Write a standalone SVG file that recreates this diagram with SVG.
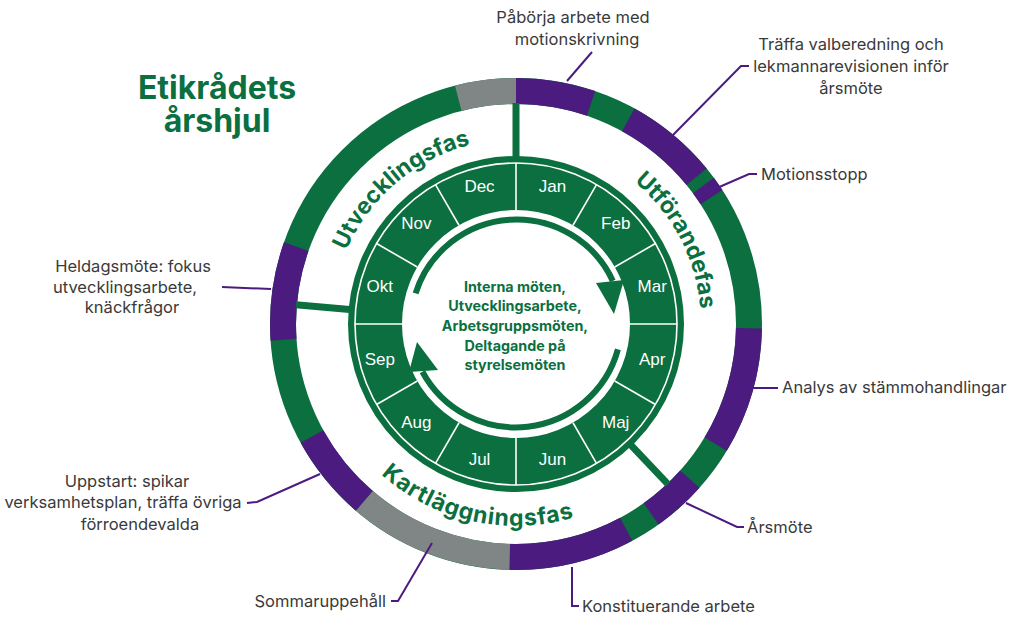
<svg xmlns="http://www.w3.org/2000/svg" xmlns:xlink="http://www.w3.org/1999/xlink" width="1010" height="617" viewBox="0 0 1010 617">
<style>
.lbl{font-family:Inter,"Noto Sans",sans-serif;font-size:16.5px;fill:#3a3a3a}
.mon{font-family:"Liberation Sans",Arial,sans-serif;font-size:17px;fill:#ffffff;text-anchor:middle}
.phase{font-family:Inter,"Noto Sans",sans-serif;font-weight:700;font-size:23px;fill:#0b6f3f}
.ctr{font-family:Inter,"Noto Sans",sans-serif;font-weight:700;font-size:14.3px;fill:#0b6f3f;text-anchor:middle}
.title{font-family:Inter,"Noto Sans",sans-serif;font-weight:700;font-size:32px;fill:#0b6f3f;text-anchor:middle}
.lead{fill:none;stroke:#4b1b7f;stroke-width:2}
.seg{fill:none;stroke-width:26}
.pu{stroke:#4b1b7f}
.gr{stroke:#808685}
.spoke{stroke:#0b6f3f;stroke-width:7}
.div{stroke:#ffffff;stroke-width:1.6}
</style>
<defs>
<path id="pUtv" d="M332.8,349.7 A185,185 0 0 1 570.1,147.1"/>
<path id="pUtf" d="M532.1,139.7 A185,185 0 0 1 676.2,416.5"/>
<path id="pKart" d="M326.2,393.1 A202,202 0 0 0 658.8,466.8"/>
<line id="dv" x1="516" y1="210" x2="516" y2="163" class="div"/>
</defs>
<rect width="1010" height="617" fill="#ffffff"/>

<g id="title">
<text class="title" x="217" y="99">Etikrådets</text>
<text class="title" x="217" y="132">årshjul</text>
</g>

<g id="outer-ring">
<circle cx="516" cy="324" r="233" fill="none" stroke="#0b6f3f" stroke-width="26"/>
<g transform="rotate(-90 516 324)">
<circle class="seg pu" cx="516" cy="324" r="233" stroke-dasharray="76.45 1500" stroke-dashoffset="0"/>
<circle class="seg pu" cx="516" cy="324" r="233" stroke-dasharray="89.47 1500" stroke-dashoffset="-117.12"/>
<circle class="seg pu" cx="516" cy="324" r="233" stroke-dasharray="14.23 1500" stroke-dashoffset="-217.56"/>
<circle class="seg pu" cx="516" cy="324" r="233" stroke-dasharray="122.0 1500" stroke-dashoffset="-370.06"/>
<circle class="seg pu" cx="516" cy="324" r="233" stroke-dasharray="52.05 1500" stroke-dashoffset="-535.57"/>
<circle class="seg pu" cx="516" cy="324" r="233" stroke-dasharray="121.18 1500" stroke-dashoffset="-616.90"/>
<circle class="seg pu" cx="516" cy="324" r="233" stroke-dasharray="83.37 1500" stroke-dashoffset="-896.69"/>
<circle class="seg pu" cx="516" cy="324" r="233" stroke-dasharray="94.75 1500" stroke-dashoffset="-1081.72"/>
<circle class="seg gr" cx="516" cy="324" r="233" stroke-dasharray="158.60 1500" stroke-dashoffset="-738.09"/>
<circle class="seg gr" cx="516" cy="324" r="233" stroke-dasharray="58.97 1500" stroke-dashoffset="-1405.0"/>
</g>
</g>

<g id="spokes">
<line class="spoke" x1="516" y1="157" x2="516" y2="103"/>
<line class="spoke" x1="516" y1="157" x2="516" y2="103" transform="rotate(275 516 324)"/>
<line class="spoke" x1="516" y1="157" x2="516" y2="103" transform="rotate(136.5 516 324)"/>
</g>

<g id="month-ring">
<circle cx="516" cy="324" r="141" fill="none" stroke="#0b6f3f" stroke-width="54"/>
<circle cx="516" cy="324" r="161" fill="none" stroke="#ffffff" stroke-width="1.6"/>
<use xlink:href="#dv"/>
<use xlink:href="#dv" transform="rotate(30 516 324)"/>
<use xlink:href="#dv" transform="rotate(60 516 324)"/>
<use xlink:href="#dv" transform="rotate(90 516 324)"/>
<use xlink:href="#dv" transform="rotate(120 516 324)"/>
<use xlink:href="#dv" transform="rotate(150 516 324)"/>
<use xlink:href="#dv" transform="rotate(180 516 324)"/>
<use xlink:href="#dv" transform="rotate(210 516 324)"/>
<use xlink:href="#dv" transform="rotate(240 516 324)"/>
<use xlink:href="#dv" transform="rotate(270 516 324)"/>
<use xlink:href="#dv" transform="rotate(300 516 324)"/>
<use xlink:href="#dv" transform="rotate(330 516 324)"/>
<text class="mon" x="552.5" y="192">Jan</text>
<text class="mon" x="615.7" y="228.5">Feb</text>
<text class="mon" x="652.2" y="291.5">Mar</text>
<text class="mon" x="652.2" y="364.5">Apr</text>
<text class="mon" x="615.7" y="428">Maj</text>
<text class="mon" x="552.5" y="464.5">Jun</text>
<text class="mon" x="479.5" y="464.5">Jul</text>
<text class="mon" x="416.3" y="428">Aug</text>
<text class="mon" x="379.8" y="364.5">Sep</text>
<text class="mon" x="379.8" y="291.5">Okt</text>
<text class="mon" x="416.3" y="228.5">Nov</text>
<text class="mon" x="479.5" y="192">Dec</text>
</g>

<g id="cycle-arrows" fill="#0b6f3f">
<path d="M415.6,293.3 A106,106 0 0 1 612.8,280.9" fill="none" stroke="#0b6f3f" stroke-width="6"/>
<polygon points="596,283 624,280 614,314"/>
<path d="M617.9,349.4 A106,106 0 0 1 422.4,371.7" fill="none" stroke="#0b6f3f" stroke-width="6"/>
<polygon points="409,372 438,370 417,342"/>
</g>

<g id="center-text">
<text class="ctr" x="515" y="292">Interna möten,</text>
<text class="ctr" x="515" y="311">Utvecklingsarbete,</text>
<text class="ctr" x="515" y="331">Arbetsgruppsmöten,</text>
<text class="ctr" x="515" y="351">Deltagande på</text>
<text class="ctr" x="515" y="370">styrelsemöten</text>
</g>

<g id="phases">
<text class="phase"><textPath xlink:href="#pUtv" startOffset="50%" text-anchor="middle">Utvecklingsfas</textPath></text>
<text class="phase"><textPath xlink:href="#pUtf" startOffset="50%" text-anchor="middle">Utförandefas</textPath></text>
<text class="phase" letter-spacing="0.8"><textPath xlink:href="#pKart" startOffset="50%" text-anchor="middle">Kartläggningsfas</textPath></text>
</g>

<g id="connectors">
<line class="lead" x1="592" y1="52" x2="567" y2="81"/>
<polyline class="lead" points="749,66 741,66 673,135"/>
<polyline class="lead" points="757,174 749,174 717,188"/>
<line class="lead" x1="752" y1="388" x2="778" y2="388"/>
<polyline class="lead" points="686,503 737,527 744,527"/>
<polyline class="lead" points="572,567 572,606 579,606"/>
<polyline class="lead" points="432,543 398,601 391,601"/>
<polyline class="lead" points="247,503 257,502 320,474"/>
<line class="lead" x1="222" y1="287" x2="271" y2="289"/>
</g>

<g id="label-paborja">
<text class="lbl" x="573" y="23" text-anchor="middle">Påbörja arbete med</text>
<text class="lbl" x="577" y="45" text-anchor="middle">motionskrivning</text>
</g>
<g id="label-traffa">
<text class="lbl" x="851" y="50" text-anchor="middle">Träffa valberedning och</text>
<text class="lbl" x="851" y="72" text-anchor="middle">lekmannarevisionen inför</text>
<text class="lbl" x="851" y="94" text-anchor="middle">årsmöte</text>
</g>
<g id="label-motionsstopp">
<text class="lbl" x="761" y="180">Motionsstopp</text>
</g>
<g id="label-analys">
<text class="lbl" x="782" y="393">Analys av stämmohandlingar</text>
</g>
<g id="label-arsmote">
<text class="lbl" x="747" y="533">Årsmöte</text>
</g>
<g id="label-konstituerande">
<text class="lbl" x="582" y="612">Konstituerande arbete</text>
</g>
<g id="label-sommar">
<text class="lbl" x="386" y="607" text-anchor="end">Sommaruppehåll</text>
</g>
<g id="label-uppstart">
<text class="lbl" x="127" y="487" text-anchor="middle">Uppstart: spikar</text>
<text class="lbl" x="123" y="508" text-anchor="middle">verksamhetsplan, träffa övriga</text>
<text class="lbl" x="140" y="530" text-anchor="middle">förroendevalda</text>
</g>
<g id="label-heldag">
<text class="lbl" x="133" y="272" text-anchor="middle">Heldagsmöte: fokus</text>
<text class="lbl" x="125" y="293" text-anchor="middle">utvecklingsarbete,</text>
<text class="lbl" x="132" y="313" text-anchor="middle">knäckfrågor</text>
</g>
</svg>
